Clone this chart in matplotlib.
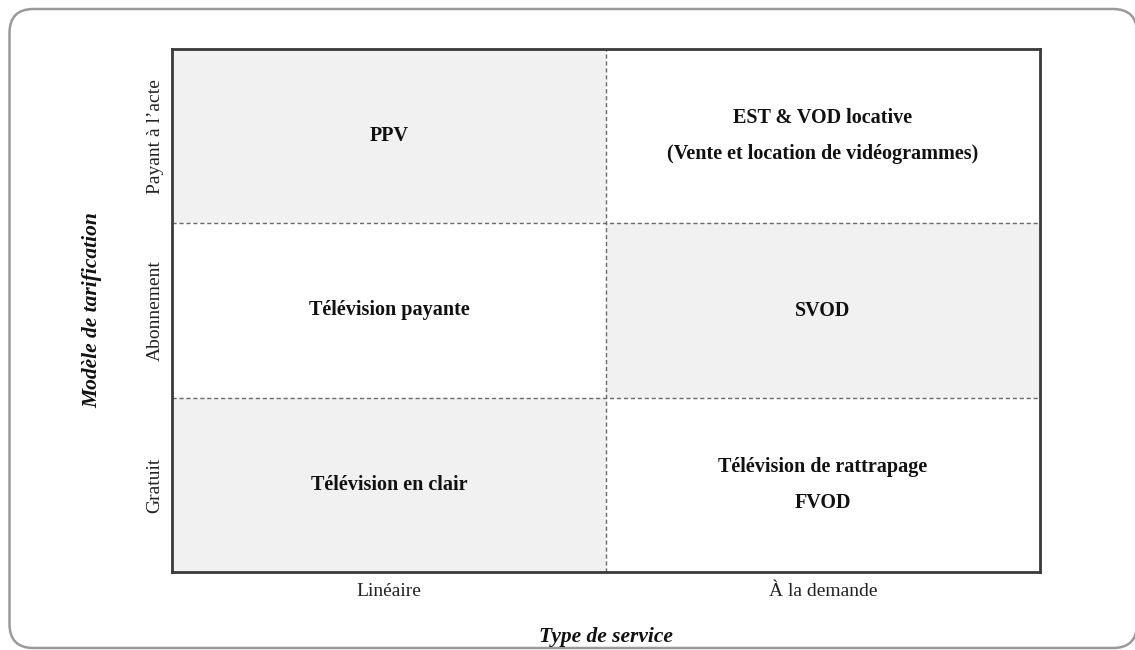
import matplotlib
matplotlib.use('Agg')
import matplotlib.pyplot as plt
from matplotlib.patches import FancyBboxPatch, Rectangle

# ---------------------------------------------------------------------------
# Data
# ---------------------------------------------------------------------------
service_types = ['Linéaire', 'À la demande']
pricing_models = ['Gratuit', 'Abonnement', 'Payant à l\u2019acte']   # bottom -> top

# cell texts, indexed [row][col], rows bottom -> top
cell_texts = [
    ['Télévision en clair', 'Télévision de rattrapage\nFVOD'],
    ['Télévision payante', 'SVOD'],
    ['PPV', 'EST & VOD locative\n(Vente et location de vidéogrammes)'],
]
# shaded cells, same indexing
shaded = [
    [1, 0],
    [0, 1],
    [1, 0],
]

# ---------------------------------------------------------------------------
# Style
# ---------------------------------------------------------------------------
SERIF = 'Liberation Serif'
SHADE = '#f1f1f1'
GRID = '#6a6a6a'
FRAME = '#3a3a3a'

W, H = 1135, 650
fig = plt.figure(figsize=(W / 100, H / 100), dpi=100)
fig.patch.set_facecolor('white')

# outer rounded card, drawn in a pixel-space background axes
bg = fig.add_axes([0, 0, 1, 1], zorder=-1)
bg.set_xlim(0, W)
bg.set_ylim(H, 0)
bg.axis('off')
bg.add_patch(FancyBboxPatch((9.5, 9), 1137 - 9.5, 648 - 9,
                            boxstyle='round,pad=0,rounding_size=24',
                            facecolor='white', edgecolor='#9a9a9a',
                            linewidth=1.8))

# main matrix axes
ax_l, ax_r, ax_t, ax_b = 172, 1040, 49, 572
ax = fig.add_axes([ax_l / W, 1 - ax_b / H, (ax_r - ax_l) / W, (ax_b - ax_t) / H])
ax.set_facecolor('white')
ncol, nrow = len(service_types), len(pricing_models)
ax.set_xlim(0, ncol)
ax.set_ylim(0, nrow)

for r in range(nrow):
    for c in range(ncol):
        if shaded[r][c]:
            ax.add_patch(Rectangle((c, r), 1, 1, facecolor=SHADE,
                                   edgecolor='none', zorder=0))
        ax.text(c + 0.5, r + 0.5, cell_texts[r][c], ha='center', va='center',
                fontsize=14.5, fontweight='bold', family=SERIF, color='#111111',
                linespacing=2.1, zorder=3)

# dashed dividers
for c in range(1, ncol):
    ax.axvline(c, color=GRID, linestyle=(0, (3, 2)), linewidth=1.0, zorder=2)
for r in range(1, nrow):
    ax.axhline(r, color=GRID, linestyle=(0, (3, 2)), linewidth=1.0, zorder=2)

for s in ax.spines.values():
    s.set_color(FRAME)
    s.set_linewidth(2.0)

# ticks
ax.set_xticks([c + 0.5 for c in range(ncol)])
ax.set_xticklabels(service_types, family=SERIF, fontsize=14, color='#222222')
ax.set_yticks([r + 0.5 for r in range(nrow)])
ax.set_yticklabels(pricing_models, family=SERIF, fontsize=14, color='#222222',
                   rotation=90, va='center')
ax.tick_params(axis='both', length=0)
ax.tick_params(axis='x', pad=8)
ax.tick_params(axis='y', pad=6)

# axis titles
ax.set_xlabel('Type de service', family=SERIF, fontsize=15.5,
              fontweight='bold', style='italic', color='#111111')
ax.xaxis.set_label_coords(0.5, (ax_b - 627) / (ax_b - ax_t))
ax.set_ylabel('Modèle de tarification', family=SERIF, fontsize=15.5,
              fontweight='bold', style='italic', color='#111111')
ax.yaxis.set_label_coords((102 - ax_l) / (ax_r - ax_l), 0.5)

fig.savefig('out.png', dpi=100, facecolor='white')
